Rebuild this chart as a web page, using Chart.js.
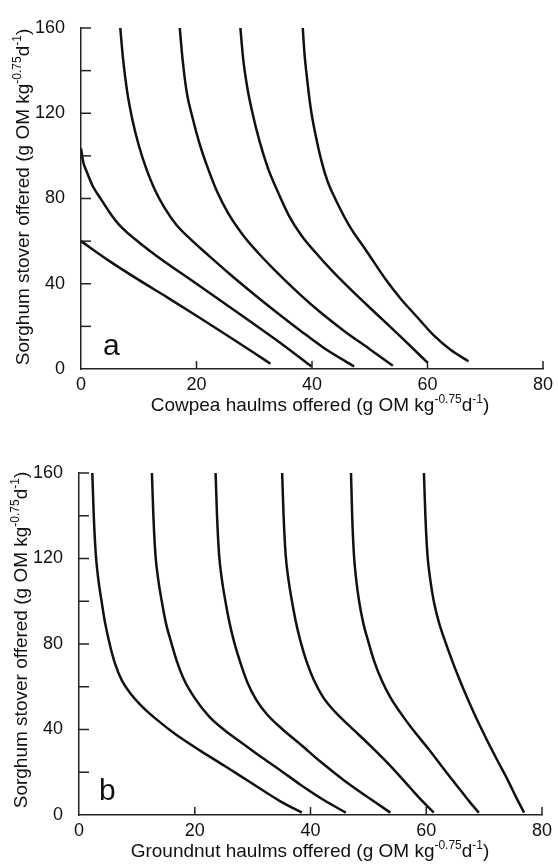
<!DOCTYPE html>
<html>
<head>
<meta charset="utf-8">
<script src="https://cdn.jsdelivr.net/npm/chart.js@4.4.1/dist/chart.umd.min.js"></script>
<style>
  body { margin: 0; background: #fff; }
  .panel { position: absolute; left: 0; }
</style>
</head>
<body>
<div class="panel" style="top:0px"><canvas id="graficoA" width="558" height="435"></canvas></div>
<div class="panel" style="top:435px"><canvas id="graficoB" width="558" height="431"></canvas></div>
<script>
// panel a - cowpea haulms offered (x) vs sorghum stover offered (y)
const cowpea1 = [[0,60],[5,50.5],[10,41.8],[15,33.5],[20,25],[25,16.3],[30,7.5],[32.8,2.5]];
const cowpea2 = [[0,103.5],[0.4,97],[1,92.5],[2,86],[3.5,79.5],[5.2,72.5],[6.5,68],[8,64],[10,59.5],[12,55.3],[14,51.3],[20,40],[25,30.5],[30,21],[35,11.3],[39.9,1.2]];
const cowpea3 = [[6.8,160],[7.3,145],[8,130],[8.9,117],[10,105],[11.3,94],[12.8,84],[14.5,75.5],[16.5,67.7],[19,60.8],[22,53.5],[26,44],[30,35],[34.4,25.5],[38,18],[42,10],[47.3,1.2]];
const cowpea4 = [[17.1,160],[17.6,145],[18.3,130],[19.3,118],[20.5,106],[22,94],[23.6,83],[25.5,73],[28,63],[30.5,55],[33.5,46.5],[37.9,35],[41.5,26.5],[45.5,18],[50,9.3],[54,1.5]];
const cowpea5 = [[27.6,160],[28.1,145],[28.8,132],[29.7,120],[30.9,107],[32.4,94],[34.1,83],[36,72],[38.2,62.5],[40.5,55],[43.5,46],[47,36.5],[51.5,25],[55.8,14],[60,3]];
const cowpea6 = [[38.4,160],[38.7,148],[39.2,135],[39.8,122],[40.6,110],[41.6,98],[42.7,88],[44,80],[46.5,67],[49.4,55.5],[52.9,41.5],[55.5,32.5],[58,25],[61,16],[64,9],[67.1,3.6]];

// panel b - groundnut haulms offered (x) vs sorghum stover offered (y)
const groundnut1 = [[2.3,160],[2.55,140],[2.9,122],[3.35,110],[3.9,100],[4.5,90],[5.3,80],[6.2,71],[7.4,63],[9,56.5],[11,50.5],[13.5,44.5],[16.8,37.5],[21,30],[25.4,22.6],[30,14.6],[34.8,6.4],[38.5,1.1]];
const groundnut2 = [[12.6,160],[12.85,140],[13.2,122],[13.7,110],[14.3,100],[15,90],[15.9,81],[16.9,72],[18.2,63],[19.8,55.5],[22.5,46],[25,40],[27.5,35],[31.8,26.5],[35,20.5],[38.2,14.3],[42.3,7],[46.1,1.1]];
const groundnut3 = [[23.6,160],[23.85,140],[24.2,122],[24.7,110],[25.3,100],[26,90],[26.8,81],[27.8,72],[29.1,62],[30.6,54],[32.5,47],[35.2,40],[38.5,32.5],[41.7,25],[45.7,16.4],[49.8,8.5],[53.8,1.1]];
const groundnut4 = [[35.1,160],[35.35,140],[35.7,122],[36.2,110],[36.8,100],[37.5,90],[38.3,81],[39.3,72],[40.6,63],[42.2,55],[44.5,47.5],[47,41],[50.5,32],[53.8,23],[57.3,12.5],[59.5,6],[61.3,1.1]];
const groundnut5 = [[47,160],[47.2,140],[47.5,122],[47.9,110],[48.4,100],[49.1,90],[50,81],[51,72],[52.3,63],[53.8,55],[55.5,48],[57.3,41.3],[60.5,30.5],[63.6,19.5],[66,11.3],[67.6,5.8],[69.1,1.1]];
const groundnut6 = [[59.6,160],[59.85,140],[60.2,122],[60.7,110],[61.3,100],[62.2,90],[63.3,81],[64.5,72],[65.8,63],[67.2,54],[68.7,45],[70.5,35],[72.3,25.5],[74,16.8],[75.5,8.5],[76.9,1.1]];

const xTicks = [0, 20, 40, 60, 80];
const yTicks = [0, 40, 80, 120, 160];

const FUENTE = '"Liberation Sans", Arial, Helvetica, sans-serif';
const TINTA = '#111';

const tituloY = [['Sorghum stover offered (g OM kg', false], ['-0.75', true], ['d', false], ['-1', true], [')', false]];
const tituloXA = [['Cowpea haulms offered (g OM kg', false], ['-0.75', true], ['d', false], ['-1', true], [')', false]];
const tituloXB = [['Groundnut haulms offered (g OM kg', false], ['-0.75', true], ['d', false], ['-1', true], [')', false]];

function textoConIndices(ctx, partes, cx, cy, size) {
    const chico = Math.round(size * 0.62);
    let total = 0;
    partes.forEach(([t, sup]) => {
        ctx.font = (sup ? chico : size) + 'px ' + FUENTE;
        total += ctx.measureText(t).width;
    });
    let x = cx - total / 2;
    partes.forEach(([t, sup]) => {
        ctx.font = (sup ? chico : size) + 'px ' + FUENTE;
        ctx.fillText(t, x, sup ? cy - size * 0.4 : cy);
        x += ctx.measureText(t).width;
    });
}

// inward tick marks, axis titles and panel letter
const marcasPlugin = {
    id: 'marcas',
    afterDraw(chart, args, o) {
        const { ctx, chartArea, scales } = chart;
        ctx.save();
        ctx.strokeStyle = '#222';
        ctx.lineWidth = 1.5;
        for (let v = 20; v <= 160; v += 20) {
            const y = scales.y.getPixelForValue(v);
            ctx.beginPath(); ctx.moveTo(chartArea.left, y); ctx.lineTo(chartArea.left + 10, y); ctx.stroke();
        }
        for (let v = 20; v <= 80; v += 20) {
            const x = scales.x.getPixelForValue(v);
            ctx.beginPath(); ctx.moveTo(x, chartArea.bottom); ctx.lineTo(x, chartArea.bottom - 8); ctx.stroke();
        }
        ctx.fillStyle = TINTA;
        ctx.textAlign = 'left';
        ctx.textBaseline = 'alphabetic';
        textoConIndices(ctx, o.tituloX, o.xCentro, o.xBase, 19);
        ctx.save();
        ctx.translate(o.yBase, o.yCentro);
        ctx.rotate(-Math.PI / 2);
        textoConIndices(ctx, tituloY, 0, 0, 19);
        ctx.restore();
        ctx.font = '30px ' + FUENTE;
        ctx.fillText(o.letra, o.letraX, o.letraY);
        ctx.restore();
    }
};

function crearGrafico(id, curvas, medidas, padding, opcionesMarcas) {
    const contexto = document.getElementById(id).getContext('2d');
    new Chart(contexto, {
        type: 'scatter',
        data: {
            datasets: curvas.map(c => ({
                data: c.map(p => ({ x: p[0], y: p[1] })),
                showLine: true,
                borderColor: TINTA,
                borderWidth: 2.5,
                pointRadius: 0,
                cubicInterpolationMode: 'monotone',
                fill: false
            }))
        },
        options: {
            responsive: false,
            animation: false,
            devicePixelRatio: 1,
            layout: { padding: padding },
            plugins: {
                legend: { display: false },
                tooltip: { enabled: false },
                marcas: opcionesMarcas
            },
            scales: {
                x: {
                    type: 'linear', min: 0, max: 80,
                    grid: { display: false },
                    border: { display: true, color: '#222', width: 1.5 },
                    ticks: {
                        stepSize: 20, padding: -3, color: TINTA,
                        font: { size: 18, family: FUENTE },
                        callback: v => xTicks.includes(v) ? v : ''
                    },
                    afterFit: s => { s.height = medidas.xAlto; s.paddingLeft = 0; s.paddingRight = 0; }
                },
                y: {
                    type: 'linear', min: 0, max: 160,
                    grid: { display: false },
                    border: { display: true, color: '#222', width: 1.5 },
                    ticks: {
                        stepSize: 20, padding: 8, color: TINTA,
                        font: { size: 18, family: FUENTE },
                        callback: v => yTicks.includes(v) ? v : ''
                    },
                    afterFit: s => { s.width = medidas.yAncho; s.paddingTop = 0; s.paddingBottom = 0; }
                }
            }
        },
        plugins: [marcasPlugin]
    });
}

crearGrafico('graficoA', [cowpea1, cowpea2, cowpea3, cowpea4, cowpea5, cowpea6],
    { yAncho: 81, xAlto: 66 },
    { left: 0, top: 28, right: 15, bottom: 0 },
    { tituloX: tituloXA, xCentro: 320, xBase: 411, yCentro: 197, yBase: 29, letra: 'a', letraX: 103, letraY: 355 });

crearGrafico('graficoB', [groundnut1, groundnut2, groundnut3, groundnut4, groundnut5, groundnut6],
    { yAncho: 79, xAlto: 51 },
    { left: 0, top: 38, right: 16, bottom: 0 },
    { tituloX: tituloXB, xCentro: 310, xBase: 422, yCentro: 205, yBase: 27, letra: 'b', letraX: 99, letraY: 365 });
</script>
</body>
</html>
